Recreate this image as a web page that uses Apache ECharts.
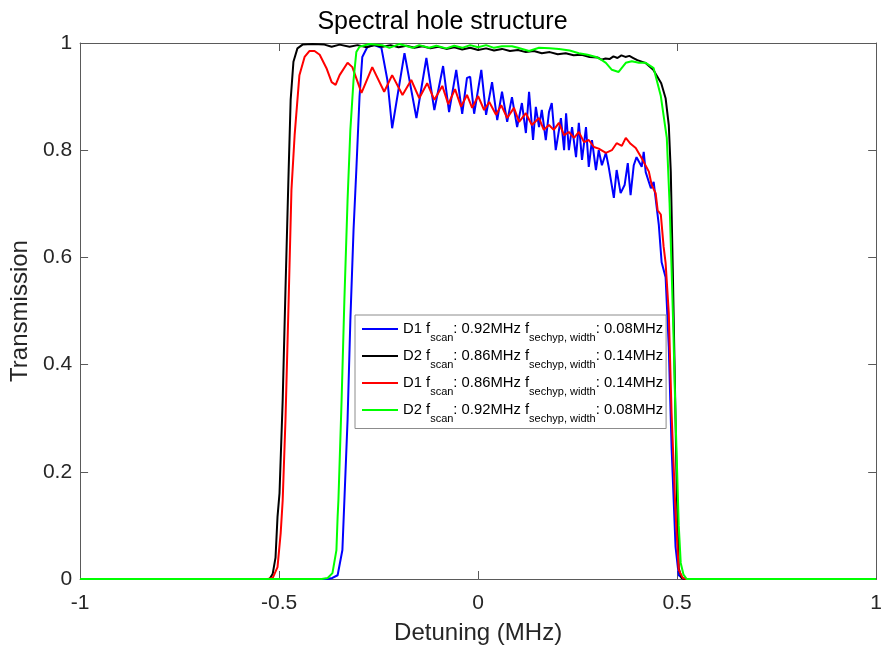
<!DOCTYPE html>
<html>
<head>
<meta charset="utf-8">
<script src="https://cdn.jsdelivr.net/npm/echarts@6/dist/echarts.min.js"></script>
<style>
html,body{margin:0;padding:0;background:#fff;}
#chart{width:885px;height:652px;}
</style>
</head>
<body>
<div id="chart"></div>
<script>
// Detuning (MHz), Transmission pairs
const d1Scan092 = [
[-1,0],[-0.378,0],[-0.366,0.002],[-0.353,0.007],[-0.341,0.054],[-0.336,0.147],[-0.328,0.297],
[-0.321,0.483],[-0.313,0.651],[-0.306,0.763],[-0.298,0.899],[-0.291,0.974],[-0.278,0.993],
[-0.261,0.996],[-0.243,0.991],[-0.228,0.931],[-0.216,0.841],[-0.185,0.981],[-0.155,0.860],
[-0.130,0.972],[-0.110,0.875],[-0.088,0.957],[-0.073,0.871],[-0.055,0.950],[-0.040,0.868],
[-0.028,0.935],[-0.020,0.937],[-0.010,0.868],[0.008,0.950],[0.020,0.866],[0.035,0.927],
[0.048,0.856],[0.060,0.909],[0.073,0.853],[0.085,0.899],[0.098,0.843],[0.110,0.888],
[0.120,0.832],[0.128,0.909],[0.138,0.819],[0.145,0.881],[0.153,0.843],[0.160,0.875],
[0.170,0.819],[0.178,0.871],[0.185,0.888],[0.195,0.800],[0.208,0.860],[0.216,0.800],
[0.221,0.869],[0.228,0.800],[0.236,0.843],[0.246,0.787],[0.253,0.851],[0.261,0.782],
[0.271,0.843],[0.278,0.769],[0.286,0.819],[0.296,0.763],[0.303,0.800],[0.311,0.772],
[0.321,0.795],[0.328,0.769],[0.341,0.711],[0.348,0.763],[0.358,0.720],[0.368,0.735],
[0.376,0.776],[0.383,0.716],[0.391,0.772],[0.398,0.787],[0.411,0.769],[0.416,0.797],
[0.421,0.759],[0.434,0.729],[0.441,0.741],[0.454,0.660],[0.461,0.591],[0.471,0.563],
[0.479,0.433],[0.486,0.246],[0.496,0.060],[0.504,0.007],[0.516,0],[1,0]
];
const d2Scan086 = [
[-1,0],[-0.524,0],[-0.516,0.01],[-0.509,0.04],[-0.504,0.116],[-0.499,0.16],[-0.491,0.334],
[-0.484,0.54],[-0.476,0.763],[-0.471,0.894],[-0.464,0.965],[-0.454,0.990],[-0.441,0.997],
[-0.416,0.998],[-0.386,0.997],[-0.368,0.993],[-0.348,0.997],[-0.323,0.993],[-0.303,0.996],
[-0.28,0.992],[-0.26,0.996],[-0.24,0.993],[-0.22,0.996],[-0.20,0.992],[-0.18,0.995],
[-0.16,0.991],[-0.14,0.994],[-0.12,0.990],[-0.10,0.993],[-0.08,0.989],[-0.06,0.992],
[-0.04,0.988],[-0.02,0.991],[0,0.987],[0.02,0.990],[0.04,0.986],[0.06,0.989],[0.08,0.985],
[0.10,0.987],[0.12,0.983],[0.14,0.985],[0.16,0.981],[0.18,0.983],[0.20,0.979],[0.22,0.981],
[0.24,0.977],[0.26,0.978],[0.28,0.974],[0.30,0.973],[0.31,0.969],[0.32,0.971],[0.33,0.970],
[0.34,0.975],[0.35,0.972],[0.36,0.977],[0.37,0.974],[0.38,0.976],[0.39,0.972],[0.40,0.968],
[0.42,0.963],[0.44,0.950],[0.46,0.925],[0.471,0.897],[0.479,0.847],[0.484,0.76],[0.489,0.58],
[0.494,0.38],[0.499,0.17],[0.504,0.02],[0.511,0.002],[0.52,0],[1,0]
];
const d1Scan086 = [
[-1,0],[-0.529,0],[-0.516,0.002],[-0.504,0.022],[-0.496,0.086],[-0.491,0.147],[-0.484,0.297],
[-0.476,0.521],[-0.469,0.726],[-0.461,0.828],[-0.449,0.940],[-0.436,0.974],[-0.424,0.985],
[-0.411,0.985],[-0.398,0.978],[-0.381,0.953],[-0.368,0.927],[-0.358,0.922],[-0.348,0.940],
[-0.328,0.963],[-0.316,0.955],[-0.293,0.907],[-0.266,0.955],[-0.236,0.909],[-0.216,0.940],
[-0.190,0.903],[-0.168,0.931],[-0.148,0.897],[-0.128,0.925],[-0.110,0.894],[-0.090,0.920],
[-0.075,0.886],[-0.058,0.914],[-0.043,0.881],[-0.028,0.903],[-0.015,0.879],[0,0.901],
[0.015,0.875],[0.028,0.890],[0.045,0.866],[0.058,0.884],[0.073,0.860],[0.090,0.879],
[0.103,0.853],[0.120,0.869],[0.135,0.847],[0.153,0.860],[0.165,0.838],[0.178,0.847],
[0.190,0.838],[0.203,0.851],[0.216,0.828],[0.228,0.834],[0.241,0.823],[0.253,0.834],
[0.266,0.815],[0.278,0.819],[0.291,0.806],[0.303,0.803],[0.321,0.795],[0.336,0.800],
[0.348,0.813],[0.361,0.808],[0.371,0.823],[0.383,0.812],[0.396,0.804],[0.411,0.785],
[0.429,0.760],[0.436,0.735],[0.446,0.720],[0.451,0.688],[0.459,0.680],[0.466,0.62],
[0.471,0.59],[0.479,0.496],[0.486,0.31],[0.496,0.123],[0.504,0.017],[0.514,0.002],[0.524,0],[1,0]
];
const d2Scan092 = [
[-1,0],[-0.393,0],[-0.378,0.002],[-0.366,0.011],[-0.356,0.054],[-0.353,0.116],[-0.351,0.147],
[-0.343,0.334],[-0.336,0.521],[-0.328,0.707],[-0.321,0.838],[-0.313,0.931],[-0.306,0.983],
[-0.298,0.993],[-0.273,0.998],[-0.241,0.996],[-0.223,0.991],[-0.198,0.998],[-0.165,0.991],
[-0.148,0.996],[-0.123,0.991],[-0.105,0.995],[-0.08,0.990],[-0.06,0.995],[-0.04,0.991],
[-0.02,0.996],[0,0.992],[0.02,0.996],[0.04,0.991],[0.06,0.994],[0.085,0.994],[0.10,0.991],
[0.128,0.985],[0.153,0.991],[0.18,0.990],[0.203,0.989],[0.23,0.986],[0.253,0.981],
[0.275,0.978],[0.296,0.974],[0.311,0.968],[0.321,0.963],[0.336,0.950],[0.353,0.946],
[0.371,0.963],[0.386,0.966],[0.404,0.963],[0.421,0.963],[0.441,0.953],[0.459,0.901],
[0.474,0.823],[0.481,0.70],[0.486,0.58],[0.491,0.45],[0.496,0.30],[0.504,0.10],[0.509,0.03],
[0.516,0.008],[0.524,0],[1,0]
];

const seriesNames = ['s1', 's2', 's3', 's4'];
const seriesColors = ['#0000ff', '#000000', '#ff0000', '#00ff00'];
const legendDevice = ['D1', 'D2', 'D1', 'D2'];
const legendScan = ['0.92', '0.86', '0.86', '0.92'];
const legendWidth = ['0.08', '0.14', '0.14', '0.08'];
const xTickLabels = ['-1', '-0.5', '0', '0.5', '1'];
const yTickLabels = ['0', '0.2', '0.4', '0.6', '0.8', '1'];
const seriesData = [d1Scan092, d2Scan086, d1Scan086, d2Scan092];

const FONT = 'Liberation Sans, Arial, Helvetica, sans-serif';
const TXT = '#262626';
const AX = '#5a5a5a';

const chart = echarts.init(document.getElementById('chart'), null, {renderer: 'canvas'});

const legendText = {};
seriesNames.forEach((n, i) => {
  legendText[n] = '{m|' + legendDevice[i] + ' f}{s|scan}{m|: ' + legendScan[i] +
    'MHz f}{s|sechyp, width}{m|: ' + legendWidth[i] + 'MHz}';
});

const xLab = v => { const i = Math.round((v + 1) / 0.5); return xTickLabels[i] !== undefined ? xTickLabels[i] : ''; };
const yLab = v => { const i = Math.round(v / 0.2); return yTickLabels[i] !== undefined ? yTickLabels[i] : ''; };

const baseX = {
  type: 'value', min: -1, max: 1, interval: 0.5,
  splitLine: {show: false},
  axisLine: {show: true, onZero: false, lineStyle: {color: AX, width: 1}},
  axisTick: {show: true, inside: true, length: 8, lineStyle: {color: AX}},
};
const baseY = {
  type: 'value', min: 0, max: 1, interval: 0.2,
  splitLine: {show: false},
  axisLine: {show: true, onZero: false, lineStyle: {color: AX, width: 1}},
  axisTick: {show: true, inside: true, length: 8, lineStyle: {color: AX}},
};

chart.setOption({
  animation: false,
  backgroundColor: '#fff',
  title: {
    text: 'Spectral hole structure',
    left: 'center', top: 0, padding: [10, 0, 0, 73],
    textStyle: {fontFamily: FONT, fontSize: 25, fontWeight: 'normal', color: '#000'}
  },
  grid: {left: 80, right: 7, top: 43, bottom: 73, containLabel: false},
  xAxis: [
    Object.assign({}, baseX, {
      position: 'bottom',
      axisLabel: {show: true, fontFamily: FONT, fontSize: 21, color: TXT, margin: 14, formatter: xLab},
      name: 'Detuning (MHz)', nameLocation: 'middle', nameGap: 42,
      nameTextStyle: {fontFamily: FONT, fontSize: 24, color: TXT}
    }),
    Object.assign({}, baseX, {position: 'top', axisLabel: {show: false}})
  ],
  yAxis: [
    Object.assign({}, baseY, {
      position: 'left',
      axisLabel: {show: true, fontFamily: FONT, fontSize: 21, color: TXT, margin: 8, formatter: yLab},
      name: 'Transmission', nameLocation: 'middle', nameGap: 45,
      nameTextStyle: {fontFamily: FONT, fontSize: 24, color: TXT}
    }),
    Object.assign({}, baseY, {position: 'right', axisLabel: {show: false}})
  ],
  legend: {
    show: true,
    orient: 'vertical',
    left: 355, top: 315,
    padding: [2, 3, 4, 7],
    itemGap: 0.5,
    icon: 'rect',
    itemWidth: 36, itemHeight: 2,
    selectedMode: false,
    backgroundColor: '#fff',
    borderColor: '#8c8c8c', borderWidth: 1, borderRadius: 0,
    data: seriesNames,
    formatter: n => legendText[n],
    textStyle: {
      fontFamily: FONT, color: '#000',
      rich: {
        m: {fontFamily: FONT, fontSize: 14.8, color: '#000', lineHeight: 24, verticalAlign: 'top', padding: [4.5, 0, 0, 0]},
        s: {fontFamily: FONT, fontSize: 11, color: '#000', lineHeight: 24, verticalAlign: 'top', padding: [15.5, 0, 0, 0]}
      }
    }
  },
  series: seriesNames.map((n, i) => ({
    name: n,
    type: 'line',
    xAxisIndex: 0, yAxisIndex: 0,
    data: seriesData[i],
    symbol: 'none', showSymbol: false,
    smooth: false,
    lineStyle: {color: seriesColors[i], width: 2},
    itemStyle: {color: seriesColors[i]},
    emphasis: {disabled: true},
    z: 2 + i
  }))
});
</script>
</body>
</html>
